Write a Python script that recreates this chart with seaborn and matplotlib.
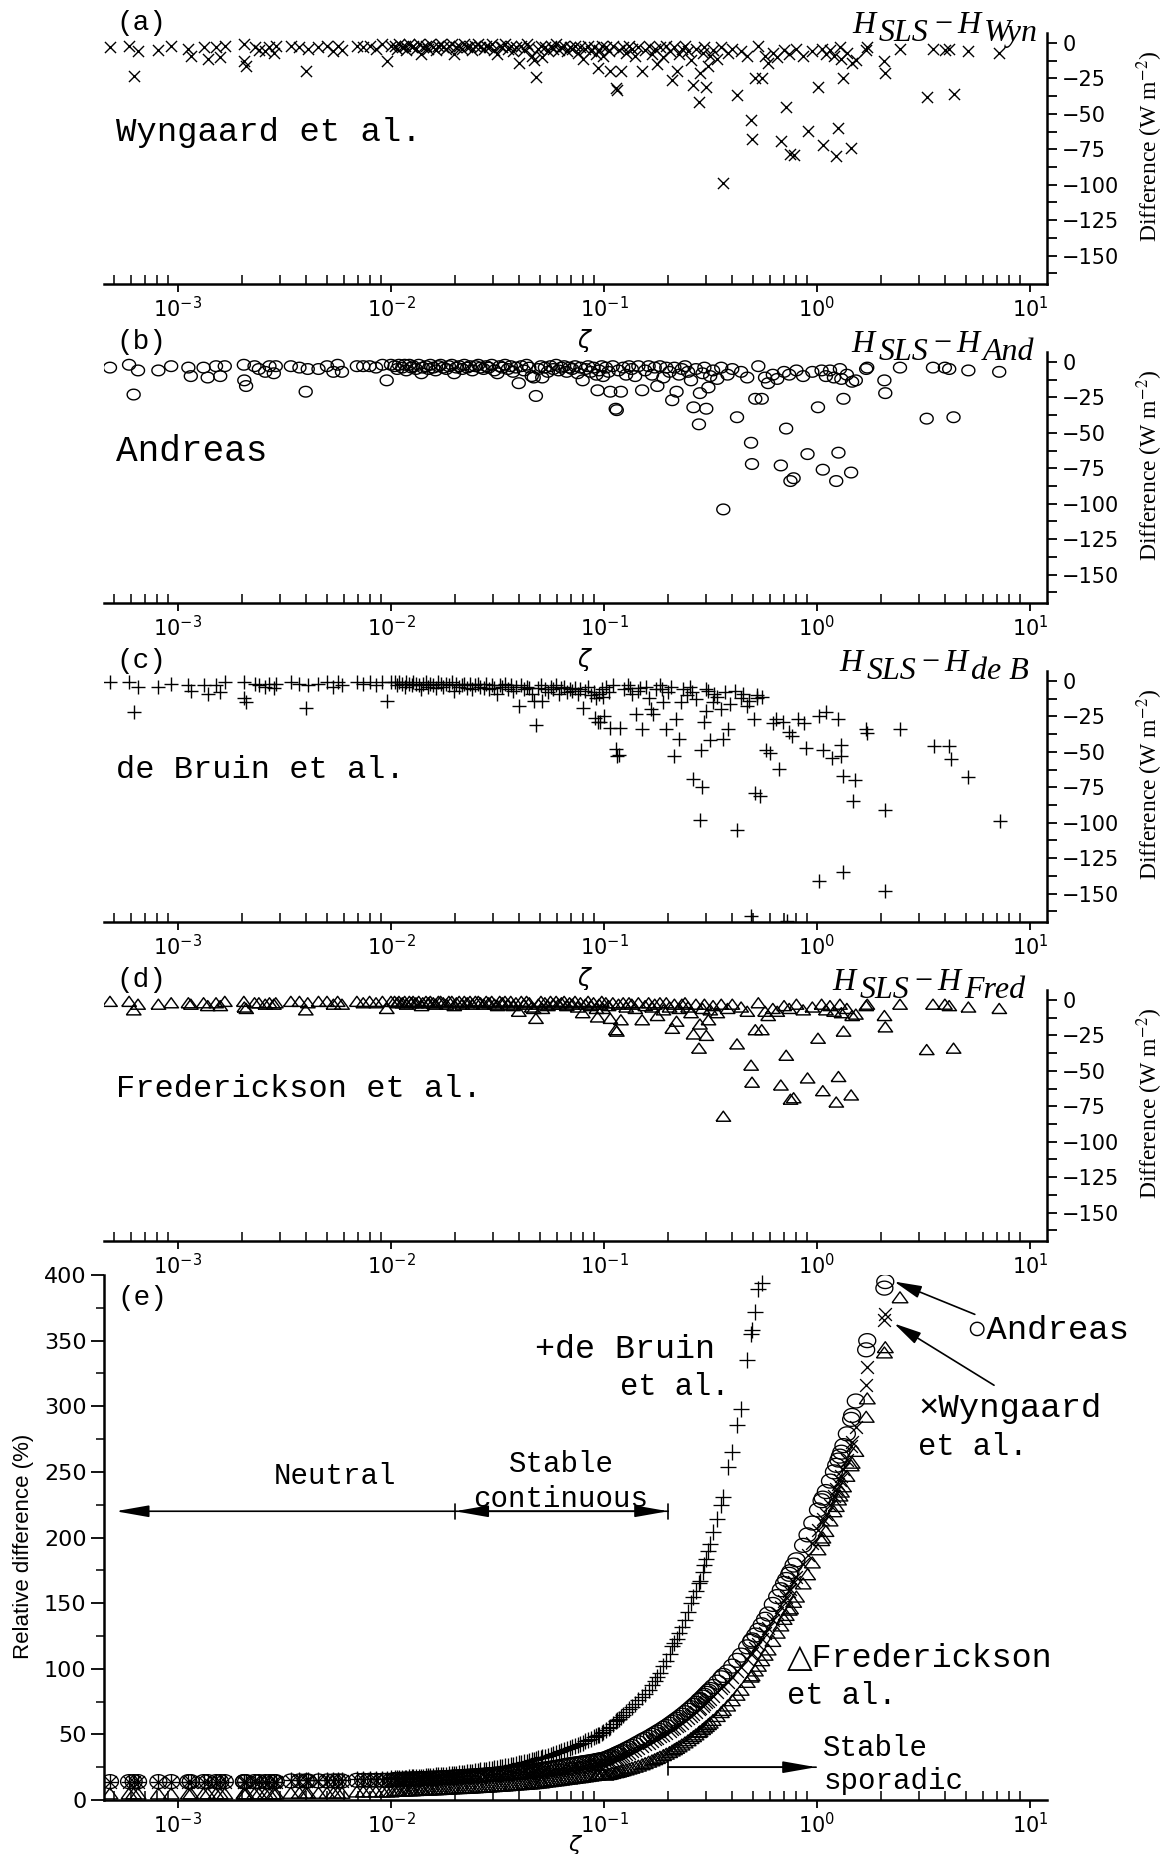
import numpy as np
import pandas as pd
import matplotlib
matplotlib.use("Agg")
import matplotlib.pyplot as plt
import seaborn as sns
from matplotlib.ticker import LogLocator, NullFormatter, MultipleLocator
from matplotlib.offsetbox import TextArea, HPacker, VPacker, AnchoredOffsetbox, DrawingArea

# ---------------------------------------------------------------- data
# stability parameter zeta (shared by the scatter panels), low range < 0.1
zeta_lo = [
    4.8e-4, 5.9e-4, 6.2e-4, 6.5e-4, 8.1e-4, 9.3e-4, 1.12e-3, 1.15e-3, 1.32e-3, 1.38e-3,
    1.51e-3, 1.58e-3, 1.66e-3, 2.04e-3, 2.05e-3, 2.09e-3, 2.29e-3, 2.40e-3, 2.57e-3, 2.69e-3,
    2.82e-3, 2.88e-3, 3.39e-3, 3.72e-3, 3.98e-3, 4.07e-3, 4.57e-3, 5.01e-3, 5.37e-3, 5.62e-3,
    5.89e-3, 6.92e-3, 7.41e-3, 7.94e-3, 8.51e-3, 9.12e-3, 9.55e-3, 1.00e-2,
    0.0104, 0.0107, 0.0109, 0.0113, 0.0116, 0.0118, 0.0122, 0.0125, 0.0127, 0.0131,
    0.0135, 0.0139, 0.0141, 0.0146, 0.0150, 0.0153, 0.0158, 0.0162, 0.0167, 0.0171,
    0.0176, 0.0182, 0.0187, 0.0193, 0.0198, 0.0203, 0.0209, 0.0216, 0.0221, 0.0228,
    0.0235, 0.0241, 0.0249, 0.0257, 0.0263, 0.0272, 0.0280, 0.0288, 0.0297, 0.0306,
    0.0316, 0.0324, 0.0333, 0.0343, 0.0354, 0.0365, 0.0374, 0.0386, 0.0398, 0.0409,
    0.0421, 0.0433, 0.0446, 0.0458, 0.0468, 0.0479, 0.0492, 0.0506, 0.0513, 0.0528,
    0.0545, 0.0561, 0.0578, 0.0596, 0.0612, 0.0631, 0.0650, 0.0668, 0.0689, 0.0709,
    0.0731, 0.0752, 0.0775, 0.0794, 0.0818, 0.0842, 0.0867, 0.0893, 0.0921, 0.0933,
    0.0948, 0.0976, 0.0990]

# zeta >= 0.1 for Wyngaard, Andreas, Frederickson
zeta_hi = [
    0.102, 0.105, 0.107, 0.110, 0.1135, 0.1148, 0.117, 0.120, 0.123, 0.127,
    0.131, 0.135, 0.140, 0.145, 0.151, 0.156, 0.162, 0.168, 0.173, 0.178,
    0.183, 0.190, 0.196, 0.203, 0.209, 0.214, 0.219, 0.225, 0.232, 0.240,
    0.248, 0.256, 0.263, 0.270, 0.279, 0.282, 0.290, 0.296, 0.302, 0.309,
    0.315, 0.325, 0.340, 0.355, 0.363, 0.380, 0.400, 0.421, 0.440, 0.470,
    0.490, 0.495, 0.513, 0.530, 0.550, 0.570, 0.589, 0.620, 0.650, 0.676,
    0.700, 0.716, 0.740, 0.750, 0.776, 0.800, 0.860, 0.902, 0.950, 1.01,
    1.05, 1.064, 1.10, 1.15, 1.20, 1.23, 1.26, 1.28, 1.30, 1.33,
    1.38, 1.445, 1.46, 1.52, 1.70, 1.72, 2.07, 2.09, 2.45, 3.27,
    3.50, 3.98, 4.17, 4.37, 5.13, 7.16]

# zeta >= 0.09 for de Bruin
zeta_hi_deb = [
    0.091, 0.0955, 0.100, 0.102, 0.105, 0.107, 0.110, 0.114, 0.115, 0.117,
    0.119, 0.124, 0.130, 0.136, 0.142, 0.148, 0.151, 0.157, 0.163, 0.166,
    0.170, 0.176, 0.183, 0.190, 0.195, 0.200, 0.207, 0.214, 0.218, 0.224,
    0.229, 0.236, 0.245, 0.252, 0.263, 0.270, 0.282, 0.285, 0.288, 0.295,
    0.302, 0.309, 0.316, 0.324, 0.340, 0.355, 0.363, 0.380, 0.390, 0.420,
    0.440, 0.470, 0.490, 0.505, 0.513, 0.525, 0.537, 0.575, 0.600, 0.620,
    0.645, 0.660, 0.690, 0.724, 0.740, 0.760, 0.810, 0.870, 0.890, 1.02,
    1.02, 1.07, 1.10, 1.17, 1.26, 1.29, 1.30, 1.32, 1.32, 1.48,
    1.51, 1.70, 1.72, 2.09, 2.09, 2.45, 3.55, 4.17, 4.27, 5.13,
    7.24,
    0.133, 0.145, 0.187, 0.260, 0.300, 0.330, 0.370, 0.410, 0.450, 0.480, 0.520, 0.550]

# H_SLS - H_model differences (W m-2)
diff_wyn_lo = [
    -3, -2, -23, -6, -5, -2, -4, -9, -3, -11, -3, -10, -2, -1, -13, -16, -3, -5, -6, -3,
    -7, -2, -2, -3, -20, -4, -3, -2, -6, -2, -5, -2, -3, -2, -4, -1, -13, -2,
    -2, -4, -1, -3, -2, -5, -1, -3, -2, -4, -1, -8, -3, -2, -4, -1, -3, -5, -2, -1,
    -3, -4, -2, -1, -8, -3, -2, -4, -1, -3, -2, -5, -2, -1, -3, -4, -2, -3, -1, -5,
    -8, -2, -3, -1, -4, -2, -6, -3, -14, -2, -5, -1, -3, -9, -12, -24, -4, -2, -10, -3,
    -6, -2, -4, -1, -5, -3, -2, -6, -3, -4, -2, -7, -3, -11, -4, -2, -6, -3, -8, -18,
    -5, -2, -9]
diff_and_lo = [
    -4, -2, -23, -6, -6, -3, -4, -10, -4, -11, -3, -10, -3, -2, -13, -17, -3, -5, -7, -3,
    -8, -3, -3, -4, -21, -5, -5, -3, -7, -2, -7, -3, -3, -3, -4, -2, -13, -2,
    -3, -5, -2, -4, -2, -6, -2, -4, -3, -5, -2, -8, -4, -3, -5, -2, -4, -6, -3, -2,
    -4, -5, -3, -2, -8, -4, -3, -5, -2, -4, -3, -6, -3, -2, -4, -5, -3, -4, -2, -6,
    -8, -3, -4, -2, -5, -3, -7, -4, -15, -3, -6, -2, -4, -10, -11, -24, -5, -3, -11, -4,
    -7, -3, -5, -2, -6, -4, -3, -7, -4, -5, -3, -8, -4, -13, -5, -3, -7, -4, -9, -20,
    -6, -3, -10]
diff_deb_lo = [
    -1, -1, -22, -4, -4, -2, -3, -7, -3, -9, -3, -8, -1, -1, -12, -15, -2, -3, -4, -2,
    -5, -2, -1, -2, -19, -3, -2, -1, -4, -1, -3, -1, -2, -1, -3, -1, -14, -1,
    -1, -3, -1, -2, -4, -1, -2, -3, -1, -2, -3, -6, -2, -1, -4, -2, -3, -5, -1, -2,
    -4, -2, -3, -1, -7, -2, -4, -3, -2, -5, -2, -6, -3, -2, -4, -5, -2, -6, -3, -5,
    -9, -3, -4, -2, -6, -3, -7, -4, -18, -3, -6, -4, -5, -9, -14, -31, -5, -3, -14, -6,
    -8, -4, -6, -3, -9, -5, -4, -8, -6, -7, -5, -9, -6, -19, -7, -4, -10, -8, -12, -29,
    -9, -6, -11]
diff_fred_lo = [
    -1, -1, -7, -3, -3, -2, -2, -3, -2, -4, -2, -4, -1, -1, -5, -6, -2, -2, -3, -2,
    -3, -2, -1, -1, -7, -2, -1, -1, -3, -1, -3, -1, -2, -1, -2, -1, -6, -1,
    -1, -2, -1, -2, -1, -3, -1, -2, -1, -2, -1, -4, -2, -1, -2, -1, -2, -3, -1, -1,
    -2, -3, -1, -1, -4, -2, -1, -3, -1, -2, -1, -3, -1, -1, -2, -3, -1, -2, -1, -3,
    -4, -1, -2, -1, -3, -1, -4, -2, -8, -1, -3, -1, -2, -5, -6, -13, -3, -1, -6, -2,
    -4, -1, -3, -1, -3, -2, -1, -4, -2, -3, -1, -5, -2, -9, -3, -1, -4, -2, -6, -12,
    -3, -1, -6]

diff_wyn_hi = [
    -3, -6, -20, -2, -32, -33, -5, -20, -3, -7, -2, -4, -9, -3, -20, -5, -2, -8, -4, -15,
    -3, -10, -2, -6, -26, -3, -20, -8, -4, -2, -6, -12, -30, -4, -42, -21, -7, -3, -31, -16,
    -9, -5, -11, -3, -99, -7, -4, -37, -6, -9, -54, -68, -25, -2, -25, -9, -14, -7, -10, -69,
    -5, -45, -8, -78, -79, -4, -9, -62, -6, -31, -4, -72, -8, -5, -9, -80, -60, -3, -11, -25,
    -7, -74, -14, -12, -5, -3, -13, -21, -4, -38, -4, -5, -4, -36, -6, -7]
diff_and_hi = [
    -4, -7, -21, -3, -33, -34, -6, -21, -4, -9, -3, -5, -10, -3, -20, -6, -3, -9, -4, -17,
    -3, -11, -4, -7, -27, -4, -21, -9, -5, -3, -7, -13, -32, -5, -44, -22, -8, -4, -33, -18,
    -10, -6, -12, -4, -104, -9, -5, -39, -7, -11, -57, -72, -26, -3, -26, -11, -15, -9, -12, -73,
    -7, -47, -9, -84, -82, -6, -10, -65, -7, -32, -6, -76, -10, -6, -11, -84, -64, -5, -12, -26,
    -9, -78, -14, -13, -5, -4, -13, -22, -4, -40, -4, -4, -5, -39, -6, -7]
diff_fred_hi = [
    -2, -4, -13, -2, -21, -22, -3, -14, -2, -5, -2, -3, -6, -2, -14, -4, -2, -5, -3, -11,
    -2, -7, -2, -5, -20, -3, -15, -6, -3, -2, -5, -9, -24, -3, -34, -17, -6, -3, -25, -14,
    -7, -4, -9, -3, -82, -6, -3, -31, -5, -8, -46, -58, -21, -2, -21, -8, -11, -6, -8, -60,
    -4, -39, -6, -70, -69, -3, -7, -55, -5, -27, -3, -64, -7, -4, -8, -72, -54, -3, -9, -22,
    -6, -67, -11, -10, -4, -3, -11, -19, -3, -35, -3, -3, -4, -34, -5, -6]
diff_deb_hi = [
    -26, -29, -25, -4, -8, -33, -3, -48, -53, -52, -33, -6, -3, -9, -23, -5, -34, -4, -12, -20,
    -23, -6, -3, -15, -34, -8, -4, -53, -27, -41, -15, -6, -10, -4, -69, -13, -98, -49, -75, -29,
    -21, -7, -42, -15, -11, -20, -41, -34, -16, -105, -12, -18, -166, -27, -79, -10, -81, -49, -51, -30,
    -27, -62, -29, -169, -36, -39, -27, -30, -47, -25, -141, -49, -22, -54, -27, -45, -53, -67, -135, -85,
    -70, -34, -37, -91, -148, -34, -46, -46, -55, -68, -99,
    -5, -7, -6, -8, -6, -9, -8, -7, -9, -14, -12, -11]

# relative differences (%), panel (e), at zeta_lo followed by zeta_hi
rel_and = [
    14, 14, 14, 14, 14, 14, 14, 14, 14, 14, 14, 14, 14, 14, 14, 14, 14, 14, 14, 14,
    14, 14, 14.5, 14.5, 14.5, 14.5, 14.5, 14.5, 14.5, 14.5, 14.5, 15, 15, 15, 15, 15, 15, 15,
    15.6, 15.6, 15.7, 15.8, 15.8, 15.9, 15.9, 16.0, 16.0, 16.1,
    16.2, 16.3, 16.3, 16.4, 16.5, 16.6, 16.7, 16.7, 16.8, 16.9,
    17.0, 17.1, 17.2, 17.4, 17.5, 17.6, 17.7, 17.8, 17.9, 18.1,
    18.2, 18.3, 18.5, 18.6, 18.8, 18.9, 19.1, 19.3, 19.4, 19.6,
    19.7, 19.9, 20.0, 20.1, 20.3, 20.5, 20.6, 20.8, 21.0, 21.2,
    21.4, 21.7, 21.9, 22.2, 22.4, 22.6, 22.8, 23.1, 23.3, 23.6,
    23.9, 24.2, 24.6, 24.9, 25.2, 25.6, 26.0, 26.4, 26.8, 27.1,
    27.4, 27.7, 28.0, 28.3, 28.6, 28.9, 29.3, 29.6, 30.0, 30.2,
    30.4, 30.8, 31.0,
    31.6, 32.4, 33.0, 33.8, 34.8, 35.1, 35.8, 36.6, 37.4, 38.6,
    39.7, 40.8, 42.2, 43.6, 45.2, 46.4, 47.8, 49.3, 50.5, 51.7,
    52.9, 54.6, 56.0, 57.7, 59.1, 60.3, 61.5, 62.9, 64.6, 66.5,
    68.4, 70.3, 72.0, 73.6, 75.8, 76.5, 78.4, 79.8, 81.3, 82.9,
    84.2, 86.5, 89.8, 93.1, 94.9, 97.6, 102, 106.4, 110.4, 116.7,
    120.9, 122, 125.7, 129.3, 133.5, 137.7, 141.7, 149, 155, 160.2,
    165, 168, 172, 174, 179, 183, 194, 202, 211, 221,
    228, 230, 235, 243, 250, 255, 259, 262, 265, 270,
    279, 290, 293, 304, 343, 350, 390, 395]
rel_wyn = [
    14, 14, 14, 14, 14, 14, 14, 14, 14, 14, 14, 14, 14, 14, 14, 14, 14, 14, 14, 14,
    14, 14, 14.5, 14.5, 14.5, 14.5, 14.5, 14.5, 14.5, 14.5, 14.5, 15, 15, 15, 15, 15, 15, 15,
    15.1, 15.1, 15.2, 15.3, 15.3, 15.4, 15.4, 15.5, 15.5, 15.6,
    15.7, 15.7, 15.8, 15.9, 15.9, 16.0, 16.1, 16.1, 16.2, 16.3,
    16.4, 16.5, 16.6, 16.7, 16.8, 16.9, 17.0, 17.1, 17.2, 17.3,
    17.4, 17.5, 17.7, 17.8, 17.9, 18.1, 18.2, 18.4, 18.5, 18.7,
    18.8, 19.0, 19.1, 19.2, 19.4, 19.5, 19.7, 19.8, 20.0, 20.2,
    20.3, 20.5, 20.7, 20.9, 21.1, 21.2, 21.4, 21.6, 21.7, 21.9,
    22.1, 22.4, 22.6, 22.9, 23.1, 23.4, 23.7, 24.0, 24.3, 24.6,
    24.9, 25.2, 25.5, 25.7, 26.0, 26.3, 26.6, 26.9, 27.3, 27.4,
    27.6, 27.9, 28.1,
    28.6, 29.3, 29.8, 30.6, 31.5, 31.8, 32.4, 33.2, 34.0, 35.0,
    36.0, 37.1, 38.4, 39.7, 41.3, 42.4, 43.8, 45.1, 46.2, 47.4,
    48.5, 49.8, 51.1, 52.7, 54.0, 55.1, 56.2, 57.5, 59.0, 60.8,
    62.5, 64.3, 65.9, 67.4, 69.4, 70.0, 71.8, 73.1, 74.4, 75.8,
    77.0, 79.0, 82.0, 85.0, 86.6, 90.0, 94.0, 98.0, 101.6, 107.3,
    111.1, 112, 115.6, 119.0, 123.0, 126.9, 130.7, 136.8, 142.5, 147.4,
    152, 155, 159, 161, 166, 170, 180, 187, 196, 206,
    212, 214, 218, 225, 232, 237, 241, 244, 247, 252,
    259, 270, 273, 284, 316, 330, 366, 370]
rel_fred = [
    5, 5, 5, 5, 5, 5, 5, 5, 5, 5, 5, 5, 5, 5, 5, 5, 5, 5, 5, 5,
    5, 5, 5.5, 5.5, 5.5, 5.5, 5.5, 5.5, 5.5, 5.5, 5.5, 6.5, 6.5, 6.5, 6.5, 6.5, 6.5, 6.5,
    7.1, 7.1, 7.2, 7.3, 7.3, 7.4, 7.4, 7.5, 7.5, 7.6,
    7.7, 7.8, 7.8, 7.9, 8.0, 8.1, 8.2, 8.2, 8.3, 8.4,
    8.5, 8.6, 8.7, 8.9, 9.0, 9.1, 9.1, 9.2, 9.3, 9.4,
    9.5, 9.6, 9.7, 9.9, 10.0, 10.1, 10.2, 10.3, 10.5, 10.6,
    10.8, 10.9, 11.0, 11.1, 11.3, 11.5, 11.6, 11.8, 12.0, 12.1,
    12.3, 12.4, 12.6, 12.7, 12.9, 13.0, 13.3, 13.5, 13.6, 13.9,
    14.2, 14.4, 14.7, 15.0, 15.2, 15.5, 15.8, 16.1, 16.3, 16.6,
    16.9, 17.2, 17.4, 17.7, 18.0, 18.3, 18.6, 18.9, 19.3, 19.4,
    19.6, 19.9, 20.1,
    19.3, 19.8, 20.1, 20.6, 21.2, 21.4, 21.7, 22.2, 22.7, 23.3,
    24.0, 24.6, 25.4, 26.2, 27.2, 28.1, 29.2, 30.2, 31.1, 32.0,
    33.0, 34.2, 35.3, 36.5, 37.7, 38.7, 39.7, 40.9, 42.3, 43.9,
    45.5, 47.2, 48.6, 50.0, 51.8, 52.4, 54.0, 55.2, 56.4, 57.8,
    59.0, 61.0, 64.0, 67.0, 68.6, 72.0, 76.0, 80.2, 84.0, 90.0,
    94.0, 95.0, 98.7, 102.3, 106.5, 110.7, 114.7, 121.2, 127.5, 133.0,
    138, 141, 145, 146, 151, 155, 165, 172, 181, 191,
    198, 200, 205, 213, 220, 224, 229, 232, 235, 239,
    247, 255, 257, 266, 292, 306, 341, 345, 383]
rel_deb = [
    14, 14, 14, 14, 14, 14, 14, 14, 14, 14, 14, 14, 14, 14, 14, 14, 14, 14, 14, 14,
    14, 14, 15, 15, 15, 15, 15, 15, 15, 15, 15, 16, 16, 16, 16, 16, 16, 16.5,
    16.6, 16.7, 16.8, 17.0, 17.1, 17.1, 17.3, 17.4, 17.5, 17.6,
    17.7, 17.9, 17.9, 18.1, 18.3, 18.4, 18.5, 18.7, 18.8, 19.0,
    19.2, 19.4, 19.5, 19.8, 19.9, 20.1, 20.4, 20.6, 20.8, 21.1,
    21.4, 21.6, 22.0, 22.3, 22.5, 22.9, 23.2, 23.5, 23.9, 24.2,
    24.6, 25.0, 25.3, 25.7, 26.2, 26.6, 27.0, 27.4, 27.9, 28.4,
    28.8, 29.3, 29.8, 30.3, 30.7, 31.2, 31.7, 32.2, 32.5, 33.1,
    33.8, 34.4, 35.1, 35.8, 36.5, 37.2, 38.0, 38.7, 39.6, 40.4,
    41.2, 42.1, 43.0, 43.8, 44.7, 45.7, 46.7, 47.7, 48.8, 49.3,
    49.9, 51.0, 51.6,
    53, 55, 56, 58, 60, 61, 62, 63.5, 65, 67,
    69, 71, 73.5, 76, 78.5, 81, 84, 88, 91, 94,
    97, 102, 106, 111, 117, 120, 123, 127, 132, 137,
    143, 150, 155, 159, 165, 167, 174, 179, 184, 190,
    195, 204, 214, 225, 231, 254, 265, 286, 298, 335,
    355, 358, 372, 389, 394]

panel_labels = ["(a)", "(b)", "(c)", "(d)"]
model_names = ["Wyngaard et al.", "Andreas", "de Bruin et al.", "Frederickson et al."]
model_subs = ["Wyn", "And", "de B", "Fred"]

# ---------------------------------------------------------------- style
sns.set_theme(style="ticks")
plt.rcParams["font.family"] = ["DejaVu Sans"]
plt.rcParams["mathtext.fontset"] = "dejavusans"
plt.rcParams["axes.unicode_minus"] = True
MONO = ["Liberation Mono", "DejaVu Sans"]

W_PX, H_PX = 1174, 1854
fig = plt.figure(figsize=(W_PX / 100, H_PX / 100), dpi=100)
fig.patch.set_facecolor("white")

LEFT = 104 / W_PX
WIDTH = 943 / W_PX
XLIM = (4.5e-4, 12.0)

tri_marker = [(-1, -0.69), (1, -0.69), (0, 0.69), (-1, -0.69)]
theta = np.linspace(0, 2 * np.pi, 41)
ell_marker = list(zip(np.cos(theta), 0.82 * np.sin(theta)))


def style_xaxis(ax):
    ax.set_xscale("log")
    ax.set_xlim(*XLIM)
    ax.xaxis.set_major_locator(LogLocator(base=10, numticks=20))
    ax.xaxis.set_minor_locator(LogLocator(base=10, subs=np.arange(2, 10), numticks=20))
    ax.xaxis.set_minor_formatter(NullFormatter())
    ax.tick_params(axis="x", which="major", direction="out", length=5.5, width=1.3,
                   labelsize=15, pad=3, color="black", labelcolor="black")
    ax.tick_params(axis="x", which="minor", direction="in", length=6.5, width=1.1,
                   color="black")


def scatter(ax, x, y, marker, s, lw, hollow):
    df = pd.DataFrame({"zeta": x, "val": y})
    kw = dict(data=df, x="zeta", y="val", ax=ax, marker=marker, s=s,
              linewidth=lw, legend=False, zorder=3)
    if hollow:
        kw.update(facecolor="none", edgecolor="black")
    else:
        kw.update(color="black")
    sns.scatterplot(**kw)


def hlabel(ax, sub, xr, yb):
    tp = dict(family="Liberation Serif", style="italic", size=23, color="black")

    def ta(s):
        return TextArea(s, textprops=tp)

    def low(s):
        return VPacker(children=[DrawingArea(1, 6), ta(s)], align="left", pad=0, sep=0)

    box = HPacker(children=[ta("H"), low("SLS"), ta("\u2212"), ta("H"), low(sub)],
                  align="top", pad=0, sep=2.5)
    ab = AnchoredOffsetbox(loc="lower right", child=box, pad=0, borderpad=0,
                           frameon=False, bbox_to_anchor=(xr, yb),
                           bbox_transform=ax.transAxes)
    ax.add_artist(ab)


diffs_lo = [diff_wyn_lo, diff_and_lo, diff_deb_lo, diff_fred_lo]
diffs_hi = [diff_wyn_hi, diff_and_hi, diff_deb_hi, diff_fred_hi]
zetas_hi = [zeta_hi, zeta_hi, zeta_hi_deb, zeta_hi]
markers = [("x", 64, 1.0, False), (ell_marker, 88, 1.0, True),
           ("+", 105, 1.0, False), (tri_marker, 110, 1.05, True)]
tops = [33, 352, 671, 990]
hlab_x = [0.990, 0.987, 0.981, 0.977]
name_sizes = [24.5, 26, 23, 23]

for i in range(4):
    top = tops[i]
    ax = fig.add_axes([LEFT, 1 - (top + 251) / H_PX, WIDTH, 251 / H_PX])
    ax.set_facecolor("white")
    m, s, lw, hollow = markers[i]
    scatter(ax, list(zeta_lo) + list(zetas_hi[i]), list(diffs_lo[i]) + list(diffs_hi[i]),
            m, s, lw, hollow)
    style_xaxis(ax)
    ax.set_ylim(-170, 7)
    ax.yaxis.tick_right()
    ax.yaxis.set_label_position("right")
    ax.yaxis.set_major_locator(MultipleLocator(25))
    ax.yaxis.set_minor_locator(MultipleLocator(12.5))
    ax.tick_params(axis="y", which="both", direction="out", length=7, width=1.3,
                   labelsize=15, pad=4, color="black", labelcolor="black",
                   left=False, right=True)
    ax.set_yticks([0, -25, -50, -75, -100, -125, -150])
    for side in ("top", "left"):
        ax.spines[side].set_visible(False)
    for side in ("bottom", "right"):
        ax.spines[side].set_linewidth(1.8)
        ax.spines[side].set_color("black")
    ax.set_xlabel(r"$\zeta$", fontsize=17, color="black")
    ax.xaxis.set_label_coords(0.51, -0.17)
    ax.set_ylabel(r"Difference (W m$^{-2}$)", family="Liberation Serif", fontsize=17,
                  color="black", math_fontfamily="stix")
    ax.yaxis.set_label_coords(1.093, 0.55)
    ax.text(0.0127, 1.04, panel_labels[i], transform=ax.transAxes, ha="left",
            va="center", family=MONO, fontsize=20, color="black")
    ax.text(0.0127, 0.605, model_names[i], transform=ax.transAxes, ha="left",
            va="center", family=MONO, fontsize=name_sizes[i], color="black")
    hlabel(ax, model_subs[i], hlab_x[i], 0.94)

# ---------------------------------------------------------------- panel (e)
ax = fig.add_axes([LEFT, 1 - 1800 / H_PX, WIDTH, 525 / H_PX])
ax.set_facecolor("white")
z_all = list(zeta_lo) + list(zeta_hi)
scatter(ax, z_all[:len(rel_fred)], rel_fred, tri_marker, 130, 1.0, True)
scatter(ax, z_all[:len(rel_wyn)], rel_wyn, "x", 85, 0.95, False)
scatter(ax, z_all[:len(rel_and)], rel_and, ell_marker, 150, 0.95, True)
scatter(ax, z_all[:len(rel_deb)], rel_deb, "+", 125, 0.95, False)
style_xaxis(ax)
ax.set_ylim(0, 400)
ax.yaxis.set_major_locator(MultipleLocator(50))
ax.yaxis.set_minor_locator(MultipleLocator(25))
ax.tick_params(axis="y", which="major", direction="out", length=9.5, width=1.3,
               labelsize=16, pad=3, color="black", labelcolor="black", left=True)
ax.tick_params(axis="y", which="minor", direction="out", length=6, width=1.1,
               color="black", left=True)
for side in ("top", "right"):
    ax.spines[side].set_visible(False)
for side in ("bottom", "left"):
    ax.spines[side].set_linewidth(1.8)
    ax.spines[side].set_color("black")
ax.set_xlabel(r"$\zeta$", fontsize=16, color="black")
ax.xaxis.set_label_coords(0.50, -0.063)
ax.set_ylabel("Relative difference (%)", family="Liberation Sans", fontsize=16,
              color="black")
ax.yaxis.set_label_coords(-0.074, 0.484)
ax.text(0.014, 0.956, "(e)", transform=ax.transAxes, ha="left", va="center",
        family=MONO, fontsize=20, color="black")

arrow_lw = 1.2
head = "head_length=1.7,head_width=0.3"
ax.annotate("", xy=(5.1e-4, 220), xytext=(0.02, 220),
            arrowprops=dict(arrowstyle="-|>," + head, color="black", lw=arrow_lw,
                            shrinkA=0, shrinkB=0))
ax.annotate("", xy=(0.2, 220), xytext=(0.02, 220),
            arrowprops=dict(arrowstyle="<|-|>," + head, color="black", lw=arrow_lw,
                            shrinkA=0, shrinkB=0))
ax.annotate("", xy=(0.2, 220), xytext=(0.02, 220),
            arrowprops=dict(arrowstyle="|-|,widthA=0.45,widthB=0.45", color="black",
                            lw=arrow_lw, shrinkA=0, shrinkB=0))
ax.annotate("", xy=(0.99, 25), xytext=(0.2, 25),
            arrowprops=dict(arrowstyle="-|>," + head, color="black", lw=arrow_lw,
                            shrinkA=0, shrinkB=0))
ax.annotate("", xy=(0.99, 25), xytext=(0.2, 25),
            arrowprops=dict(arrowstyle="|-|,widthA=0.45,widthB=0.0", color="black",
                            lw=arrow_lw, shrinkA=0, shrinkB=0))

tk = dict(family=MONO, color="black")
ax.text(0.00546, 247, "Neutral", ha="center", va="center", fontsize=21, **tk)
ax.text(0.0628, 256, "Stable", ha="center", va="center", fontsize=21, **tk)
ax.text(0.0628, 229.5, "continuous", ha="center", va="center", fontsize=21, **tk)
ax.text(1.07, 39.5, "Stable", ha="left", va="center", fontsize=21, **tk)
ax.text(1.07, 14.6, "sporadic", ha="left", va="center", fontsize=21, **tk)
ax.text(0.0472, 343, "+de Bruin", ha="left", va="center", fontsize=24, **tk)
ax.text(0.119, 315, "et al.", ha="left", va="center", fontsize=22, **tk)
ax.text(5.0, 358, "\u25CBAndreas", ha="left", va="center", fontsize=24.5, **tk)
ax.text(2.98, 298, "\u00D7Wyngaard", ha="left", va="center", fontsize=24.5, **tk)
ax.text(2.98, 269, "et al.", ha="left", va="center", fontsize=22, **tk)
ax.text(0.724, 108, "\u25B3Frederickson", ha="left", va="center", fontsize=24, **tk)
ax.text(0.724, 79, "et al.", ha="left", va="center", fontsize=22, **tk)

head2 = "head_length=1.4,head_width=0.32"
ax.annotate("", xy=(2.30, 395), xytext=(5.5, 370), annotation_clip=False,
            arrowprops=dict(arrowstyle="-|>," + head2, color="black", lw=arrow_lw,
                            shrinkA=0, shrinkB=0))
ax.annotate("", xy=(2.30, 363), xytext=(6.77, 316), annotation_clip=False,
            arrowprops=dict(arrowstyle="-|>," + head2, color="black", lw=arrow_lw,
                            shrinkA=0, shrinkB=0))

fig.savefig("out.png", dpi=100, facecolor="white")
